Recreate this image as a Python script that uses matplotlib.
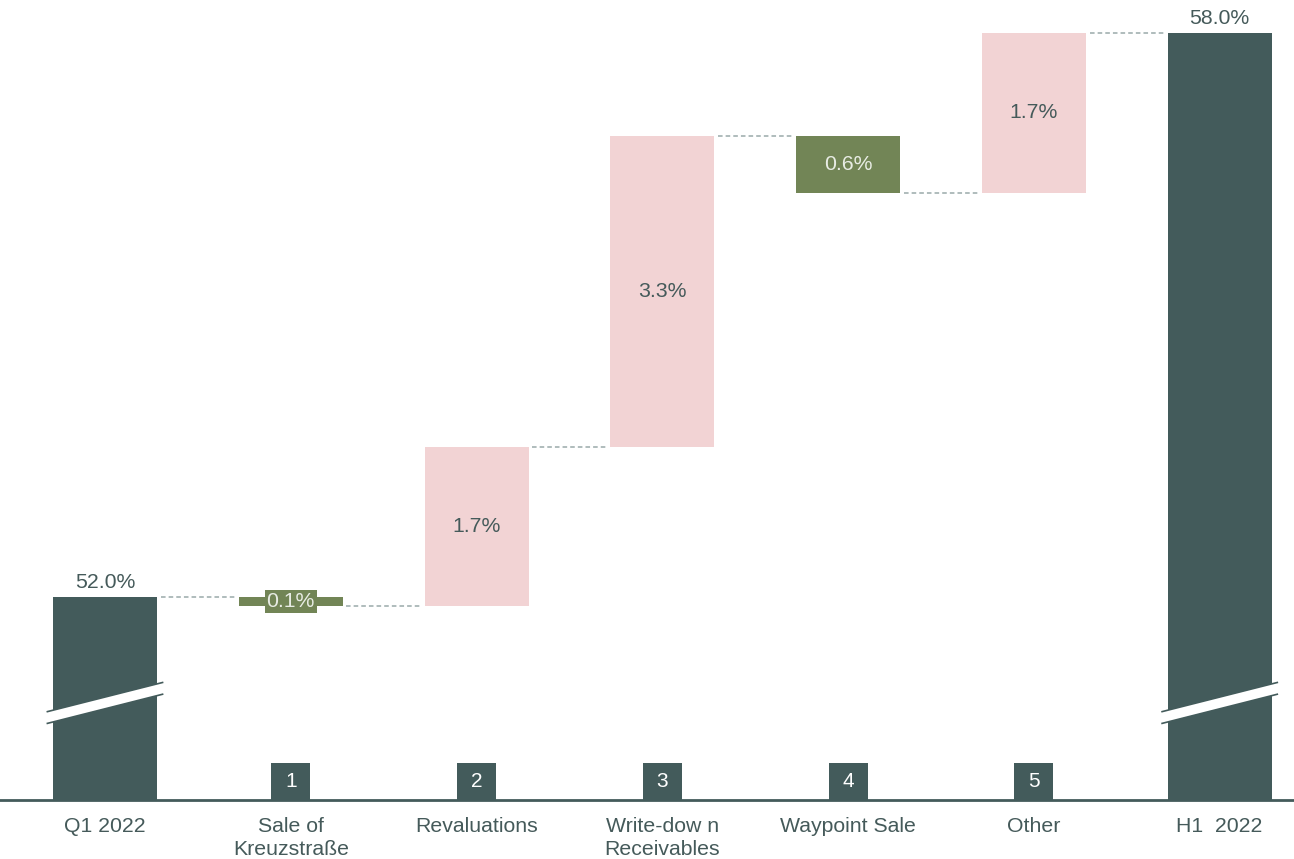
import numpy as np
import matplotlib.pyplot as plt
from matplotlib.patches import Rectangle, Polygon
import matplotlib.transforms as mtransforms

plt.rcParams['font.family'] = ['Liberation Sans', 'DejaVu Sans']

categories = ["Q1 2022", "Sale of\nKreuzstraße", "Revaluations", "Write-dow n\nReceivables",
              "Waypoint Sale", "Other", "H1  2022"]
start_value = 52.0
deltas = [-0.1, 1.7, 3.3, -0.6, 1.7]
end_value = 58.0
step_numbers = ["1", "2", "3", "4", "5"]

DARK = "#435b5b"
GREEN = "#728556"
PINK = "#f2d3d4"
DASH = "#9aaaaa"
TEXT = "#455a5a"
FS = 15.3

fig = plt.figure(figsize=(12.94, 8.59), dpi=100)
ax = fig.add_axes([0, 59 / 859, 1, 800 / 859])
ymin, ymax = 49.84, 58.35
ax.set_ylim(ymin, ymax)
ax.set_xlim(-0.565, 6.40)
width = 0.56

x = np.arange(len(categories))

# running totals
levels = [start_value]
for d in deltas:
    levels.append(levels[-1] + d)

# totals (broken axis, so bars start at the bottom of the view)
for xi, val in [(0, start_value), (6, end_value)]:
    ax.bar(xi, val - ymin, bottom=ymin, width=width, color=DARK, zorder=2)
    ax.text(xi, val + 0.05, f"{val:.1f}%", ha="center", va="bottom", fontsize=FS, color=TEXT)

# deltas
for i, d in enumerate(deltas):
    xi = i + 1
    lo = min(levels[i], levels[i + 1])
    color = PINK if d > 0 else GREEN
    ax.bar(xi, abs(d), bottom=lo, width=width, color=color, zorder=2)
    tcol = TEXT if d > 0 else "#e8ece4"
    kw = {}
    if abs(d) < 0.3:
        kw["bbox"] = dict(boxstyle="square,pad=0.08", fc=GREEN, ec="none")
    ax.text(xi, lo + abs(d) / 2, f"{abs(d):.1f}%", ha="center", va="center",
            fontsize=FS, color=tcol, zorder=3, **kw)

# dashed connectors
for i in range(len(categories) - 1):
    y = levels[i] if i < len(levels) else end_value
    ax.plot([x[i] + width / 2 + 0.02, x[i + 1] - width / 2 - 0.02], [y, y],
            ls=(0, (3, 2)), color=DASH, lw=1.1, zorder=1)

# axis-break marks on total bars
for xi in (0, 6):
    x0, x1 = xi - width / 2 - 0.03, xi + width / 2 + 0.03
    y_left, y_right = 50.78, 51.09
    gap = 0.125
    poly = Polygon([[x0, y_left], [x1, y_right], [x1, y_right - gap], [x0, y_left - gap]],
                   closed=True, fc="white", ec="none", zorder=3)
    ax.add_patch(poly)
    ax.plot([x0, x1], [y_left, y_right], color=DARK, lw=1.2, zorder=4)
    ax.plot([x0, x1], [y_left - gap, y_right - gap], color=DARK, lw=1.2, zorder=4)

# numbered step markers sitting on the axis
trans = mtransforms.blended_transform_factory(ax.transData, ax.transAxes)
box_w = 0.21
box_h = 37 / 800
for i, n in enumerate(step_numbers):
    xi = i + 1
    ax.add_patch(Rectangle((xi - box_w / 2, 0), box_w, box_h, transform=trans,
                           fc=DARK, ec="none", zorder=3))
    ax.text(xi, box_h / 2, n, transform=trans, ha="center", va="center",
            fontsize=15, color="white", zorder=4)

for s in ["top", "right", "left"]:
    ax.spines[s].set_visible(False)
ax.spines["bottom"].set_color(DARK)
ax.spines["bottom"].set_linewidth(2)
ax.set_yticks([])
ax.set_xticks(x)
ax.set_xticklabels(categories, fontsize=FS, color=TEXT, linespacing=1.3, va="top")
ax.tick_params(axis="x", length=0, pad=12)

fig.savefig("out.png", dpi=100)
